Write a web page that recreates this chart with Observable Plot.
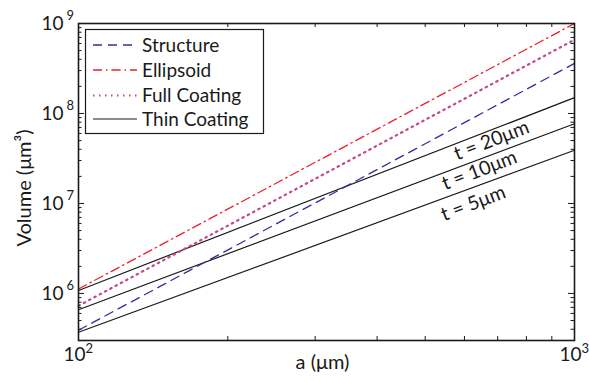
<!DOCTYPE html>
<html>
<head>
<meta charset="utf-8">
<script src="https://cdn.jsdelivr.net/npm/d3@7"></script>
<script src="https://cdn.jsdelivr.net/npm/@observablehq/plot@0.6"></script>
<style>
  html, body { margin: 0; padding: 0; background: #fff; }
  #chart { width: 589px; height: 381px; }
</style>
</head>
<body>
<div id="chart"></div>
<script>
// ---- data (log-log, straight lines) ----
const aValues      = [100, 1000];          // a (μm)
const structure    = [3.9e5, 3.6e8];       // blue dashed
const ellipsoid    = [1.12e6, 1.0e9];      // red dash-dot
const fullCoating  = [7.3e5, 6.6e8];       // magenta dotted
const thin20       = [1.08e6, 1.5e8];      // t = 20 μm
const thin10       = [6.6e5, 7.7e7];       // t = 10 μm
const thin5        = [3.7e5, 3.9e7];       // t = 5 μm

const seriesNames  = ["Structure", "Ellipsoid", "Full Coating", "Thin Coating"];
const thinLabels   = ["t = 20μm", "t = 10μm", "t = 5μm"];
const thinLabelA   = [680, 643, 625];
const thinLabelV   = [5.0e7, 2.33e7, 1.0e7];

const xMajor = [100, 1000];
const xMinor = [200, 300, 400, 500, 600, 700, 800, 900];
const yMajor = [1e6, 1e7, 1e8, 1e9];
const yMinor = [4e5,5e5,6e5,7e5,8e5,9e5,
                2e6,3e6,4e6,5e6,6e6,7e6,8e6,9e6,
                2e7,3e7,4e7,5e7,6e7,7e7,8e7,9e7,
                2e8,3e8,4e8,5e8,6e8,7e8,8e8,9e8];

const toRows = vals => aValues.map((a, i) => ({a, v: vals[i]}));

const W = 589, H = 381;
const mL = 78, mR = 15, mT = 23, mB = 41;
const pw = W - mL - mR, ph = H - mT - mB;
const FONT = "Lato, 'Open Sans', sans-serif";
const ink = "#1a1a1a";

const styles = {
  structure: {stroke: "#2f2f9f", strokeDasharray: "9,6", strokeWidth: 1.3},
  ellipsoid: {stroke: "#ee1f2a", strokeDasharray: "9,4,1.5,4", strokeWidth: 1.3},
  full:      {stroke: "#c4488c", strokeDasharray: "1.5,4.5", strokeWidth: 2.2},
  thin:      {stroke: ink, strokeWidth: 1.2}
};

const chart = Plot.plot({
  width: W, height: H,
  marginLeft: mL, marginRight: mR, marginTop: mT, marginBottom: mB,
  style: {fontFamily: FONT, background: "#fff", color: ink},
  x: {type: "log", domain: [100, 1000], axis: null},
  y: {type: "log", domain: [3.0e5, 1e9], axis: null},
  marks: [
    Plot.line(toRows(thin20), {x: "a", y: "v", ...styles.thin}),
    Plot.line(toRows(thin10), {x: "a", y: "v", ...styles.thin}),
    Plot.line(toRows(thin5),  {x: "a", y: "v", ...styles.thin}),
    Plot.line(toRows(structure),   {x: "a", y: "v", ...styles.structure}),
    Plot.line(toRows(fullCoating), {x: "a", y: "v", ...styles.full}),
    Plot.line(toRows(ellipsoid),   {x: "a", y: "v", ...styles.ellipsoid}),
    // inward ticks
    Plot.tickX(xMinor, {x: d => d, insetTop: ph - 4, stroke: ink}),
    Plot.tickX(xMinor, {x: d => d, insetBottom: ph - 4, stroke: ink}),
    Plot.tickY(yMinor, {y: d => d, insetRight: pw - 3.5, stroke: ink}),
    Plot.tickY(yMinor, {y: d => d, insetLeft: pw - 3.5, stroke: ink}),
    Plot.tickY(yMajor, {y: d => d, insetRight: pw - 6, stroke: ink}),
    Plot.tickY(yMajor, {y: d => d, insetLeft: pw - 6, stroke: ink}),
    Plot.frame({stroke: ink, strokeWidth: 1.6}),
    // tick labels
    Plot.text(xMajor, {x: d => d, text: () => "10", frameAnchor: "bottom", dy: 20, dx: -4, fontSize: 19, fill: ink}),
    Plot.text(xMajor, {x: d => d, text: d => String(Math.round(Math.log10(d))), frameAnchor: "bottom", dy: 12, dx: 7, textAnchor: "start", fontSize: 13, fill: ink}),
    Plot.text(yMajor, {y: d => d, text: () => "10", frameAnchor: "left", dx: -15, textAnchor: "end", fontSize: 19, fill: ink}),
    Plot.text(yMajor, {y: d => d, text: d => String(Math.round(Math.log10(d))), frameAnchor: "left", dx: -12, dy: -8, textAnchor: "start", fontSize: 13, fill: ink}),
    // x axis title
    Plot.text(["a (μm)"], {frameAnchor: "bottom", dy: 28, dx: -4, fontSize: 20, fill: ink}),
    // annotations
    Plot.text(thinLabels, {x: (d, i) => thinLabelA[i], y: (d, i) => thinLabelV[i], text: d => d, rotate: -21, fontSize: 19.5, fill: ink})
  ]
});

const svg = d3.select(chart);

// y axis title
svg.append("text")
  .attr("transform", "translate(24,188) rotate(-90)")
  .attr("text-anchor", "middle").attr("dy", "0.35em")
  .attr("font-family", FONT).attr("font-size", 20).attr("fill", ink)
  .text("Volume (μm³)");

// legend
const lg = svg.append("g").attr("font-family", FONT).attr("font-size", 19).attr("fill", ink).attr("text-anchor", "start");
lg.append("rect").attr("x", 85.5).attr("y", 29.5).attr("width", 178).attr("height", 104)
  .attr("fill", "#fff").attr("stroke", ink).attr("stroke-width", 1.2);
const legendStyles = [styles.structure, styles.ellipsoid, styles.full, styles.thin];
const legendY = [45, 70, 95.5, 119];
seriesNames.forEach((name, i) => {
  const s = legendStyles[i];
  lg.append("line").attr("x1", 93).attr("x2", 137).attr("y1", legendY[i]).attr("y2", legendY[i])
    .attr("stroke", s.stroke).attr("stroke-width", s.strokeWidth)
    .attr("stroke-dasharray", s.strokeDasharray || null);
  lg.append("text").attr("x", 142).attr("y", legendY[i]).attr("dy", "0.35em").attr("text-anchor", "start").text(name);
});

document.getElementById("chart").appendChild(chart);
</script>
</body>
</html>
